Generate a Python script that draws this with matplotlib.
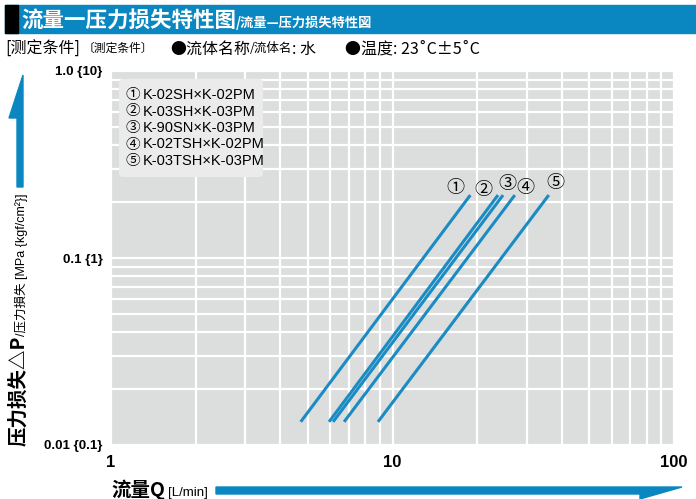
import matplotlib
matplotlib.use("Agg")
import matplotlib.pyplot as plt
from matplotlib.patches import Rectangle, Polygon, FancyBboxPatch
from matplotlib.ticker import LogLocator, FixedLocator, NullFormatter

plt.rcParams['font.family'] = ['Noto Sans CJK SC', 'DejaVu Sans']

# ---- data ----
models = ['K-02SH×K-02PM', 'K-03SH×K-03PM', 'K-90SN×K-03PM',
          'K-02TSH×K-02PM', 'K-03TSH×K-03PM']
marks = ['①', '②', '③', '④', '⑤']
flow_lo = [4.72, 5.95, 6.15, 6.73, 8.88]      # L/min at low end
flow_hi = [18.9, 23.7, 24.7, 27.2, 35.9]      # L/min at high end
dp_lo = [0.0133, 0.0133, 0.0133, 0.0133, 0.0133]   # MPa
dp_hi = [0.217, 0.217, 0.217, 0.217, 0.217]
mark_off = [(-15, 7), (-15, 5), (4, 11), (11, 7), (7, 12)]  # label offset px

xticks = [1, 10, 100]
xticklabels = ['1', '10', '100']
yticks = [0.01, 0.1, 1.0]
yticklabels = ['0.01 {0.1}', '0.1 {1}', '1.0 {10}']

W, H = 696, 499
BLUE = '#0a87c1'
LINE = '#1a8cc3'
LATIN = ['Liberation Sans', 'Noto Sans CJK JP', 'DejaVu Sans']

fig = plt.figure(figsize=(W / 100, H / 100), dpi=100)
renderer = fig.canvas.get_renderer()

def fx(px):
    return px / W

def fy(py):
    return 1 - py / H

def after(t, gap=0):
    # x (figure fraction) right after a text
    return t.get_window_extent(renderer).x1 / W + gap / W

# title bar
fig.patches.append(Rectangle((fx(5), fy(33)), fx(691), 28 / H, transform=fig.transFigure,
                             color=BLUE, zorder=0))
fig.patches.append(Rectangle((fx(5), fy(33)), fx(13), 28 / H, transform=fig.transFigure,
                             color='black', zorder=1))
t1 = fig.text(fx(21), fy(20), '流量一压力损失特性图', color='white', fontsize=15.5,
              fontweight='bold', va='center', ha='left')
fig.text(after(t1), fy(23), '/流量—压力损失特性図', color='white', fontsize=9.5,
         fontweight='bold', va='center', ha='left')

# conditions line
cy = fy(49)
c1 = fig.text(fx(5), cy, '[测定条件]', fontsize=11.5, va='center')
c2 = fig.text(fx(83), cy + 0.002, '〔測定条件〕', fontsize=8.5, va='center')
c3 = fig.text(fx(170), cy, '●流体名称', fontsize=11.5, va='center')
c4 = fig.text(after(c3), cy + 0.002, '/流体名', fontsize=9, va='center')
c5 = fig.text(after(c4), cy, ': 水', fontsize=11.5, va='center')
fig.text(fx(345), cy, '●温度: 23˚C±5˚C', fontsize=11.5, va='center')

# axes
ax = fig.add_axes([fx(111), 1 - 445 / H, (674 - 111) / W, (445 - 71) / H])
ax.set_facecolor('#dcdddd')
ax.set_xscale('log')
ax.set_yscale('log')
ax.set_xlim(1, 100)
ax.set_ylim(0.01, 1.0)
for s in ax.spines.values():
    s.set_visible(False)
ax.xaxis.set_major_locator(FixedLocator(xticks))
ax.yaxis.set_major_locator(FixedLocator(yticks))
ax.xaxis.set_minor_locator(LogLocator(base=10, subs=range(2, 10)))
ax.yaxis.set_minor_locator(LogLocator(base=10, subs=range(2, 10)))
ax.xaxis.set_minor_formatter(NullFormatter())
ax.yaxis.set_minor_formatter(NullFormatter())
ax.set_xticklabels(xticklabels, fontsize=12, fontweight='bold', family=LATIN)
ax.set_yticklabels(yticklabels, fontsize=9.5, fontweight='bold', family=LATIN)
ax.tick_params(which='both', length=0)
ax.tick_params(axis='x', pad=7)
ax.tick_params(axis='y', pad=6)
ax.grid(which='both', color='white', linewidth=1.6)
ax.set_axisbelow(True)

for i in range(len(models)):
    ax.plot([flow_lo[i], flow_hi[i]], [dp_lo[i], dp_hi[i]], color=LINE,
            linewidth=2.2, solid_capstyle='butt', zorder=3)
    ax.annotate(marks[i], (flow_hi[i], dp_hi[i]), xytext=mark_off[i],
                textcoords='offset pixels', ha='center', va='center',
                fontsize=13, family=['Noto Sans CJK JP', 'DejaVu Sans'], zorder=4)

# legend box
box = FancyBboxPatch((fx(119), fy(177)), (263 - 119) / W, (177 - 79) / H,
                     boxstyle='round,pad=0,rounding_size=0.006',
                     transform=fig.transFigure, facecolor='#ebebeb',
                     edgecolor='none', zorder=5)
fig.patches.append(box)
for i in range(len(models)):
    m = fig.text(fx(126), fy(95 + 16.5 * i), marks[i], fontsize=10.5,
                 family=['Noto Sans CJK JP', 'DejaVu Sans'], va='center', ha='left', zorder=6)
    fig.text(after(m, 2), fy(95 + 16.5 * i), models[i], fontsize=10.5,
             family=LATIN, va='center', ha='left', zorder=6)

# y label + arrow
t2 = fig.text(fx(19), fy(446), '压力损失△P', rotation=90, fontsize=14,
              fontweight='bold', ha='center', va='bottom')
bb = t2.get_window_extent(renderer)
fig.text(fx(22), bb.y1 / H, '/压力損失 [MPa {kgf/cm²}]', rotation=90, fontsize=9,
         ha='center', va='bottom', family=LATIN)
fig.patches.append(Polygon([(fx(17), fy(187)), (fx(23), fy(187)), (fx(23), fy(75)),
                            (fx(9), fy(118)), (fx(17), fy(118))],
                           closed=True, transform=fig.transFigure, color=BLUE))

# x label + arrow
t3 = fig.text(fx(111), fy(496), '流量Q', fontsize=14, fontweight='bold',
              ha='left', va='baseline')
fig.text(after(t3, 3), fy(496), '[L/min]', fontsize=9.5, family=LATIN,
         ha='left', va='baseline')
fig.patches.append(Polygon([(fx(216), fy(487)), (fx(682), fy(487)), (fx(640), fy(499)),
                            (fx(640), fy(494)), (fx(216), fy(494))],
                           closed=True, transform=fig.transFigure, color=BLUE))

fig.savefig('out.png', dpi=100)
